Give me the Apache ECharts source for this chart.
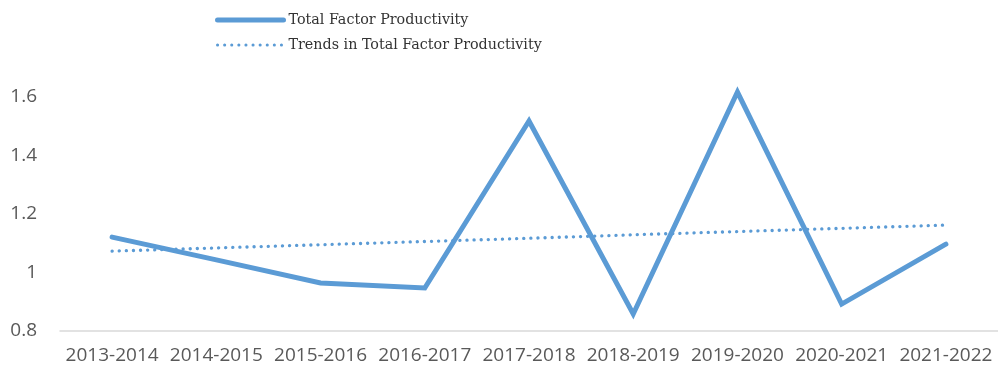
<!DOCTYPE html>
<html><head><meta charset="utf-8">
<script src="https://cdn.jsdelivr.net/npm/echarts@6/dist/echarts.min.js"></script>
<style>html,body{margin:0;padding:0;background:#fff}#c{width:998px;height:374px}</style>
</head><body><div id="c"></div>
<script>
const categories = ['2013-2014','2014-2015','2015-2016','2016-2017','2017-2018','2018-2019','2019-2020','2020-2021','2021-2022'];
const tfp = [1.121, 1.043, 0.964, 0.947, 1.518, 0.858, 1.617, 0.892, 1.097];
const trend = [1.073, 1.084, 1.095, 1.106, 1.117, 1.129, 1.140, 1.151, 1.162];
const seriesNames = ['Total Factor Productivity', 'Trends in Total Factor Productivity'];

const chart = echarts.init(document.getElementById('c'));
chart.setOption({
  animation: false,
  legend: {
    orient: 'vertical', left: 210, top: 8, itemGap: 11, itemWidth: 66, itemHeight: 14,
    textStyle: { fontFamily: 'DejaVu Serif', fontSize: 14.3, color: '#333' },
    itemStyle: { opacity: 0 },
    data: [
      { name: seriesNames[0], lineStyle: { width: 5 } },
      { name: seriesNames[1], lineStyle: { width: 3 } }
    ]
  },
  grid: { left: 60, right: 0, top: 97, bottom: 43 },
  xAxis: {
    type: 'category', data: categories, boundaryGap: true,
    axisLine: { lineStyle: { color: '#d9d9d9', width: 1.5 } },
    axisTick: { show: false },
    axisLabel: { color: '#595959', fontSize: 19, fontFamily: 'Open Sans', margin: 15, interval: 0 }
  },
  yAxis: {
    type: 'value', min: 0.8, max: 1.6, interval: 0.2,
    splitLine: { show: false }, axisLine: { show: false }, axisTick: { show: false },
    axisLabel: { color: '#595959', fontSize: 19, fontFamily: 'Open Sans', margin: 23 }
  },
  series: [
    { name: seriesNames[0], type: 'line', data: tfp, symbol: 'none', clip: false,
      lineStyle: { color: '#5b9bd5', width: 5, cap: 'round', join: 'miter' }, itemStyle: { color: '#5b9bd5' } },
    { name: seriesNames[1], type: 'line', data: trend, symbol: 'none', clip: false,
      lineStyle: { color: '#5b9bd5', width: 3.3, type: [0.1, 7], cap: 'round' }, itemStyle: { color: '#5b9bd5' } }
  ]
});
</script></body></html>
